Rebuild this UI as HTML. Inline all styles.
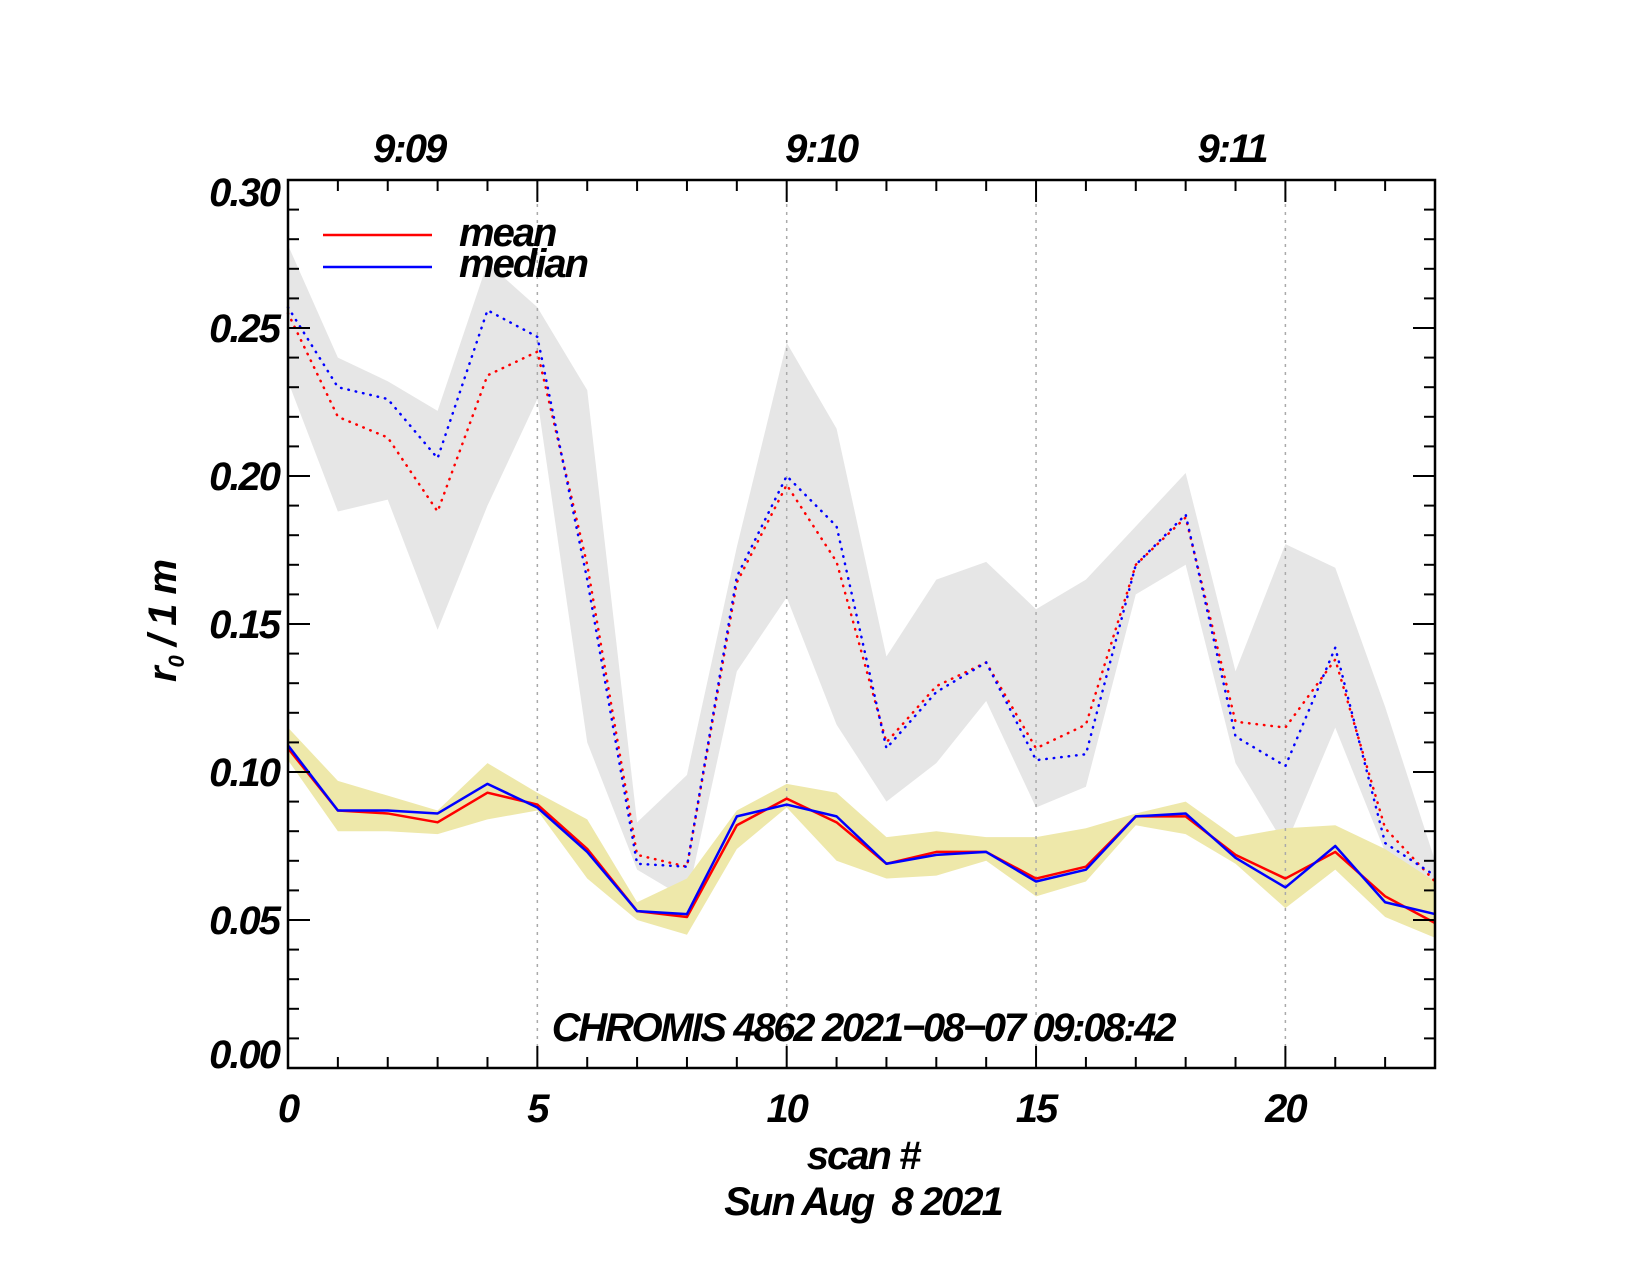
<!DOCTYPE html>
<html><head><meta charset="utf-8"><style>
html,body{margin:0;padding:0;background:#fff;}
svg{display:block;}
text{font-family:"Liberation Sans",sans-serif;font-weight:bold;font-style:italic;fill:#000;}
</style></head><body>
<svg id="chart" width="1651" height="1275" viewBox="0 0 1651 1275" xmlns="http://www.w3.org/2000/svg"></svg>
<script>
const scans = [0,1,2,3,4,5,6,7,8,9,10,11,12,13,14,15,16,17,18,19,20,21,22,23];
const meanSolid   = [0.108,0.087,0.086,0.083,0.093,0.089,0.074,0.053,0.051,0.082,0.091,0.083,0.069,0.073,0.073,0.064,0.068,0.085,0.085,0.072,0.064,0.073,0.058,0.049];
const medianSolid = [0.109,0.087,0.087,0.086,0.096,0.088,0.073,0.053,0.052,0.085,0.089,0.085,0.069,0.072,0.073,0.063,0.067,0.085,0.086,0.071,0.061,0.075,0.056,0.052];
const yellowUpper = [0.115,0.097,0.092,0.087,0.103,0.093,0.084,0.056,0.064,0.087,0.096,0.093,0.078,0.080,0.078,0.078,0.081,0.086,0.090,0.078,0.081,0.082,0.074,0.063];
const yellowLower = [0.104,0.080,0.080,0.079,0.084,0.087,0.064,0.050,0.045,0.074,0.088,0.070,0.064,0.065,0.070,0.058,0.063,0.082,0.079,0.069,0.054,0.067,0.051,0.044];
const meanDotted   = [0.255,0.220,0.213,0.188,0.234,0.242,0.170,0.072,0.068,0.164,0.197,0.171,0.110,0.129,0.137,0.108,0.116,0.170,0.186,0.117,0.115,0.138,0.081,0.063];
const medianDotted = [0.257,0.230,0.226,0.206,0.256,0.247,0.165,0.069,0.068,0.166,0.200,0.183,0.108,0.127,0.137,0.104,0.106,0.170,0.187,0.112,0.102,0.142,0.076,0.065];
const grayUpper = [0.278,0.240,0.232,0.222,0.272,0.257,0.229,0.083,0.099,0.176,0.245,0.216,0.139,0.165,0.171,0.155,0.165,0.183,0.201,0.134,0.177,0.169,0.122,0.070];
const grayLower = [0.232,0.188,0.192,0.148,0.190,0.226,0.110,0.067,0.057,0.134,0.159,0.116,0.090,0.103,0.124,0.088,0.095,0.160,0.170,0.103,0.075,0.115,0.073,0.055];
const yTickLabels = ["0.00","0.05","0.10","0.15","0.20","0.25","0.30"];
const yTickValues = [0,0.05,0.10,0.15,0.20,0.25,0.30];
const xTickLabels = ["0","5","10","15","20"];
const xTickValues = [0,5,10,15,20];
const timeLabels = ["9:09","9:10","9:11"];
const timeScans = [2.43,10.69,18.93];

const X0=288,X1=1435,Y0=1068,Y1=180,XMAX=23,YMAX=0.30;
const sx=v=>X0+(X1-X0)*v/XMAX;
const sy=v=>Y0-(Y0-Y1)*v/YMAX;
const svg=document.getElementById('chart');
const NS='http://www.w3.org/2000/svg';
function mk(tag,attrs,parent){const e=document.createElementNS(NS,tag);for(const k in attrs)e.setAttribute(k,attrs[k]);(parent||svg).appendChild(e);return e;}

function band(up,lo,fill,name){
  let pts=scans.map((s,i)=>sx(s)+','+sy(up[i]));
  for(let i=scans.length-1;i>=0;i--)pts.push(sx(scans[i])+','+sy(lo[i]));
  const p=mk('polygon',{points:pts.join(' '),fill:fill});
  
  
}
function line(vals,color,dash,name){
  const p=mk('polyline',{points:scans.map((s,i)=>sx(s)+','+sy(vals[i])).join(' '),fill:'none',stroke:color,'stroke-width':2.5,'stroke-linejoin':'round'});
  if(dash){p.setAttribute('stroke-dasharray',dash);p.setAttribute('stroke-linecap','round');}
  
  
}
band(grayUpper,grayLower,'#e6e6e6','gray-band');
band(yellowUpper,yellowLower,'#eee8aa','yellow-band');
xTickValues.slice(1).forEach(v=>{
  const g=mk('line',{x1:sx(v),x2:sx(v),y1:Y1,y2:Y0,stroke:'#aaa','stroke-width':1.5,'stroke-dasharray':'3 5'});
  
  
});
line(meanDotted,'#f00','0.5 7','mean-dotted-line');
line(medianDotted,'#00f','0.5 7','median-dotted-line');
line(meanSolid,'#f00',null,'mean-line');
line(medianSolid,'#00f',null,'median-line');

const fr=mk('rect',{x:X0,y:Y1,width:X1-X0,height:Y0-Y1,fill:'none',stroke:'#000','stroke-width':2.5});


for(let k=0;k<=30;k++){
  const v=k/100, y=sy(v), L=(k%5===0)?22:11;
  mk('line',{x1:X0,x2:X0+L,y1:y,y2:y,stroke:'#000','stroke-width':2});
  mk('line',{x1:X1,x2:X1-L,y1:y,y2:y,stroke:'#000','stroke-width':2});
}
for(let k=0;k<=23;k++){
  const x=sx(k), L=(k%5===0)?22:11;
  mk('line',{x1:x,x2:x,y1:Y0,y2:Y0-L,stroke:'#000','stroke-width':2});
  mk('line',{x1:x,x2:x,y1:Y1,y2:Y1+L,stroke:'#000','stroke-width':2});
}
yTickValues.forEach((v,i)=>{
  let off=14; if(i===0)off=0; if(i===yTickValues.length-1)off=26;
  const t=mk('text',{x:279,y:sy(v)+off,'text-anchor':'end','font-size':40,'letter-spacing':-2});
  t.textContent=yTickLabels[i];
  
  
});
xTickValues.forEach((v,i)=>{
  const t=mk('text',{x:sx(v),y:1122,'text-anchor':'middle','font-size':40,'letter-spacing':-2});
  t.textContent=xTickLabels[i];
  
  
});
timeLabels.forEach((s,i)=>{
  const t=mk('text',{x:sx(timeScans[i]),y:162,'text-anchor':'middle','font-size':40,'letter-spacing':-2});
  t.textContent=s;
  
  
});
</script>
<svg style="position:absolute;left:0;top:0" width="1651" height="1275">
  <g>
    <line x1="323" x2="432" y1="235" y2="235" stroke="#f00" stroke-width="2.5"/>
    <line x1="323" x2="432" y1="267" y2="267" stroke="#00f" stroke-width="2.5"/>
    <text x="459" y="246" font-size="40" letter-spacing="-2">mean</text>
    <text x="459" y="277" font-size="40" letter-spacing="-2">median</text>
  </g>
  <text x="863" y="1041" text-anchor="middle" font-size="40" letter-spacing="-2.3">CHROMIS 4862 2021−08−07 09:08:42</text>
  <text x="863" y="1169" text-anchor="middle" font-size="40" letter-spacing="-2">scan #</text>
  <text x="863" y="1215" text-anchor="middle" font-size="40" letter-spacing="-2">Sun Aug &#160;8 2021</text>
  <text transform="translate(176,621) rotate(-90)" text-anchor="middle" font-size="40" letter-spacing="-1">r<tspan font-size="22" dy="8">0</tspan><tspan dy="-8"> / 1 m</tspan></text>
</svg>
</body></html>
